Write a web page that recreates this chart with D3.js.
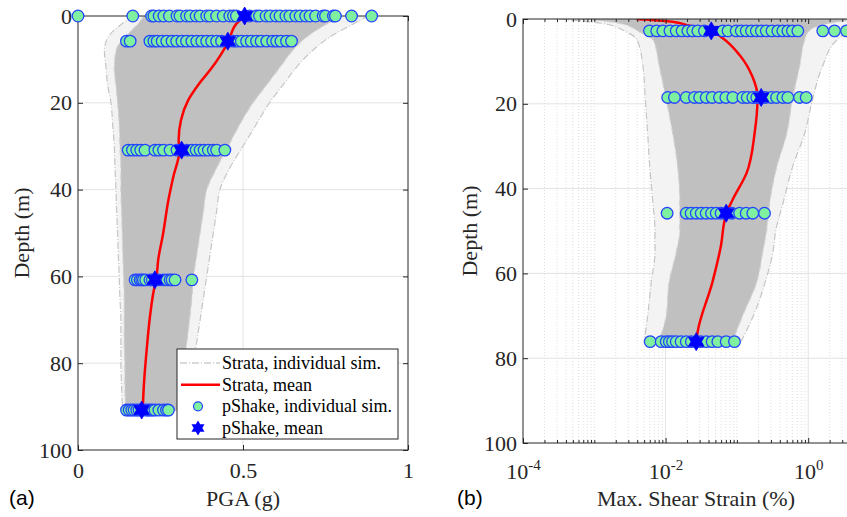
<!DOCTYPE html>
<html>
<head>
<meta charset="utf-8">
<script src="https://cdn.jsdelivr.net/npm/d3@7/dist/d3.min.js"></script>
<style>
  body { margin: 0; background: #fff; }
  svg { display: block; font-family: "Liberation Serif", "Times New Roman", serif; }
  .axis path, .axis line { stroke: #262626; }
  .axis text { fill: #262626; font-size: 22px; font-family: "Liberation Serif", serif; }
</style>
</head>
<body>
<div class="figure"></div>
<script>
//tick labels
const pgaTicks = [0, 0.5, 1];
const depthTicks = [0, 20, 40, 60, 80, 100];
const strainTicks = [1e-4, 1e-2, 1];

//pShake individual sims, panel (a): one row per output depth
const pgaDepths = [0, 5.8, 30.9, 60.8, 90.8];
const pgaSims = [
  [0.00, 0.166, 0.223, 0.23, 0.246, 0.26, 0.277, 0.30, 0.309, 0.329, 0.34, 0.358, 0.37, 0.39, 0.40, 0.42, 0.44, 0.46, 0.471, 0.48,
   0.52, 0.541, 0.55, 0.57, 0.582, 0.60, 0.612, 0.63, 0.642, 0.66, 0.673, 0.69, 0.703, 0.72, 0.743, 0.75, 0.774, 0.78, 0.829, 0.89],
  [0.147, 0.158, 0.218, 0.23, 0.24, 0.255, 0.269, 0.285, 0.299, 0.315, 0.329, 0.345, 0.36, 0.375, 0.39, 0.405, 0.42, 0.435,
   0.47, 0.481, 0.495, 0.511, 0.525, 0.541, 0.555, 0.572, 0.59, 0.602, 0.615, 0.632, 0.647],
  [0.152, 0.165, 0.178, 0.19, 0.203, 0.233, 0.245, 0.259, 0.279, 0.30, 0.33, 0.345, 0.358, 0.37, 0.382, 0.395, 0.41, 0.42, 0.445],
  [0.173, 0.18, 0.188, 0.193, 0.198, 0.205, 0.218, 0.225, 0.245, 0.259, 0.27, 0.279, 0.285, 0.294, 0.345],
  [0.147, 0.155, 0.163, 0.17, 0.178, 0.185, 0.205, 0.212, 0.218, 0.225, 0.233, 0.245, 0.259, 0.268, 0.274]
];
const pgaMeans = [0.505, 0.454, 0.314, 0.233, 0.193];

//Strata mean PGA profile
const pgaLineDepth = [0, 1.7, 6.2, 9, 12, 15.5, 19.4, 24, 28.6, 31.1, 37, 42.4, 50.1, 56.2, 60.1, 63.9, 69.3, 77, 84.6, 90.8];
const pgaLineMean = [0.506, 0.481, 0.454, 0.432, 0.405, 0.368, 0.334, 0.312, 0.305, 0.307, 0.289, 0.274, 0.258, 0.243, 0.238, 0.228, 0.218, 0.208, 0.20, 0.196];

//Strata individual sims, panel (a): envelopes of the grey band
const pgaBandDepth = [0, 2, 5, 8, 12, 16, 20, 25, 30, 35, 40, 45, 50, 55, 60, 65, 70, 75, 80, 85, 91];
const pgaInnerLo = [0.20, 0.18, 0.14, 0.115, 0.11, 0.115, 0.12, 0.125, 0.127, 0.13, 0.13, 0.132, 0.134, 0.136, 0.138, 0.14, 0.14, 0.14, 0.142, 0.142, 0.145];
const pgaInnerHi = [0.80, 0.75, 0.69, 0.65, 0.61, 0.57, 0.53, 0.49, 0.455, 0.42, 0.39, 0.38, 0.37, 0.36, 0.35, 0.345, 0.338, 0.33, 0.322, 0.315, 0.303];
const pgaOuterLo = [0.17, 0.13, 0.09, 0.08, 0.085, 0.09, 0.10, 0.105, 0.11, 0.112, 0.115, 0.117, 0.12, 0.122, 0.125, 0.127, 0.13, 0.13, 0.13, 0.132, 0.135];
const pgaOuterHi = [0.88, 0.83, 0.76, 0.71, 0.66, 0.62, 0.58, 0.54, 0.50, 0.46, 0.43, 0.42, 0.41, 0.40, 0.39, 0.38, 0.37, 0.36, 0.35, 0.34, 0.33];

//pShake individual sims, panel (b), strain in %
const strainDepths = [2.8, 18.5, 45.8, 76.1];
const strainSims = [
  [0.00594, 0.0075, 0.00914, 0.0115, 0.0141, 0.017, 0.0205, 0.024, 0.0283, 0.035, 0.0634, 0.075, 0.0977, 0.115, 0.135, 0.16,
   0.187, 0.22, 0.258, 0.31, 0.375, 0.44, 0.518, 0.6, 0.715, 1.6, 2.34, 3.44, 5.0],
  [0.0107, 0.0133, 0.0195, 0.0254, 0.030, 0.0371, 0.045, 0.057, 0.07, 0.0877, 0.121, 0.14, 0.167, 0.19, 0.25, 0.303, 0.36, 0.441, 0.518, 0.755, 0.937],
  [0.0105, 0.0195, 0.0228, 0.0269, 0.0316, 0.0371, 0.044, 0.0513, 0.06, 0.085, 0.109, 0.135, 0.167, 0.244],
  [0.00608, 0.00867, 0.0102, 0.0113, 0.0125, 0.0141, 0.0165, 0.0195, 0.023, 0.031, 0.0371, 0.045, 0.054, 0.0708, 0.0925]
];
const strainMeans = [0.0437, 0.219, 0.0708, 0.0269];

//Strata mean strain profile
const strainLineDepth = [0, 0.64, 1.4, 2.8, 4.5, 8.5, 13.7, 18.4, 27, 36.3, 42.7, 45.8, 54, 62, 74, 76];
const strainLineMean = [0.00387, 0.0125, 0.0195, 0.0437, 0.0628, 0.109, 0.166, 0.195, 0.177, 0.137, 0.0867, 0.0714, 0.0589, 0.0455, 0.028, 0.0271];

//Strata individual sims, panel (b): envelopes of the grey band
const strainBandDepth = [0, 1, 3, 5, 11, 19, 27, 35, 43, 50, 55, 62, 70, 76];
const strainInnerLo = [0.00063, 0.00224, 0.00427, 0.00676, 0.00813, 0.0102, 0.0126, 0.0148, 0.0158, 0.0158, 0.0141, 0.0112, 0.0102, 0.0081];
const strainInnerHi = [5.0, 2.0, 1.0, 0.89, 0.76, 0.60, 0.50, 0.36, 0.29, 0.26, 0.23, 0.19, 0.12, 0.087];
const strainOuterLo = [0.00032, 0.00126, 0.0028, 0.004, 0.0048, 0.0052, 0.0056, 0.006, 0.0066, 0.0071, 0.0071, 0.0063, 0.0056, 0.005];
const strainOuterHi = [10, 6.3, 3.5, 2.5, 1.6, 1.15, 0.89, 0.6, 0.45, 0.35, 0.32, 0.25, 0.17, 0.115];

const legendLabels = ['Strata, individual sim.', 'Strata, mean', 'pShake, individual sim.', 'pShake, mean'];

//colours
const greyBand = '#c0c0c0';
const greyLine = '#c6c6c6';
const redMean = '#ff0000';
const dotFill = '#7fefa0';
const dotEdge = '#2444ff';
const starFill = '#0000ff';
const gridColor = '#e3e3e3';

//MATLAB-like hexagram marker
function hexagram(r){
    const pts = d3.range(12).map(i => {
        const a = Math.PI / 6 * i - Math.PI / 2;
        const rr = i % 2 ? r * 0.58 : r;
        return [rr * Math.cos(a), rr * Math.sin(a)];
    });
    return 'M' + pts.join('L') + 'Z';
}

//zip depth & value arrays into row objects
function zipProfile(depths, ...cols){
    return depths.map((d, i) => ({depth: d, v: cols.map(c => c[i])}));
}

function drawPanel(svg, cfg){
    const {x, y, id} = cfg;
    const [x0, x1] = x.range();
    const [y0, y1] = y.range();

    svg.append('clipPath').attr('id', id)
        .append('rect').attr('x', x0).attr('y', y0).attr('width', x1 - x0).attr('height', y1 - y0);

    const g = svg.append('g');

    //grid
    const grid = g.append('g').attr('class', 'grid');
    if (cfg.minorX){
        grid.selectAll('.minor').data(cfg.minorX).enter().append('line')
            .attr('x1', d => x(d)).attr('x2', d => x(d))
            .attr('y1', y0).attr('y2', y1)
            .style('stroke', '#dedede').style('stroke-dasharray', '1,2');
    }
    grid.selectAll('.gx').data(cfg.gridX).enter().append('line')
        .attr('x1', d => x(d)).attr('x2', d => x(d))
        .attr('y1', y0).attr('y2', y1)
        .style('stroke', gridColor);
    grid.selectAll('.gy').data([20, 40, 60, 80]).enter().append('line')
        .attr('x1', x0).attr('x2', x1)
        .attr('y1', d => y(d)).attr('y2', d => y(d))
        .style('stroke', gridColor);

    //grey band of individual Strata sims
    const band = g.append('g').attr('clip-path', `url(#${id})`);
    const rows = zipProfile(cfg.bandDepth, cfg.outerLo, cfg.innerLo, cfg.innerHi, cfg.outerHi);
    const area = (a, b) => d3.area()
        .y(d => y(d.depth)).x0(d => x(d.v[a])).x1(d => x(d.v[b]))
        .curve(d3.curveMonotoneY);
    band.append('path').datum(rows).attr('d', area(0, 3)).style('fill', '#f3f3f3');
    band.append('path').datum(rows).attr('d', area(1, 2)).style('fill', greyBand);
    [0, 1, 2, 3].forEach(k => {
        band.append('path').datum(rows)
            .attr('d', d3.line().y(d => y(d.depth)).x(d => x(d.v[k])).curve(d3.curveMonotoneY))
            .style('fill', 'none').style('stroke', k === 1 || k === 2 ? '#d0d0d0' : greyLine)
            .style('stroke-width', 1.2).style('stroke-dasharray', '7,2,1,2');
    });

    //red mean line
    const meanRows = zipProfile(cfg.lineDepth, cfg.lineMean);
    g.append('path').datum(meanRows)
        .attr('clip-path', `url(#${id})`)
        .attr('d', d3.line().y(d => y(d.depth)).x(d => x(d.v[0])).curve(d3.curveMonotoneY))
        .style('fill', 'none').style('stroke', redMean).style('stroke-width', 2.5);

    //axes, ticks inward like MATLAB
    const ax = g.append('g').attr('class', 'axis');
    ax.append('g').attr('transform', `translate(0,${y1})`)
        .call(d3.axisBottom(x).tickValues(cfg.ticksX).tickFormat(cfg.fmtX).tickSize(-5).tickSizeOuter(0).tickPadding(cfg.padX));
    ax.append('g').attr('transform', `translate(0,${y0})`)
        .call(d3.axisTop(x).tickValues(cfg.ticksX).tickFormat('').tickSize(-5).tickSizeOuter(0));
    ax.append('g').attr('transform', `translate(${x0},0)`)
        .call(d3.axisLeft(y).tickValues(depthTicks).tickSize(-5).tickSizeOuter(0).tickPadding(6));
    ax.append('g').attr('transform', `translate(${x1},0)`)
        .call(d3.axisRight(y).tickValues(depthTicks).tickFormat('').tickSize(-5).tickSizeOuter(0));
    if (cfg.minorX){
        ax.append('g').attr('transform', `translate(0,${y1})`)
            .call(d3.axisBottom(x).tickValues(cfg.minorX).tickFormat('').tickSize(-3).tickSizeOuter(0));
        ax.append('g').attr('transform', `translate(0,${y0})`)
            .call(d3.axisTop(x).tickValues(cfg.minorX).tickFormat('').tickSize(-3).tickSizeOuter(0));
    }
    ax.selectAll('.domain').remove();
    ax.append('rect').attr('x', x0).attr('y', y0).attr('width', x1 - x0).attr('height', y1 - y0)
        .style('fill', 'none').style('stroke', '#262626');
    if (cfg.superscript){
        ax.selectAll('.tick text').filter(d => cfg.ticksX.includes(d) && typeof d === 'number')
            .each(function(d){
                if (!this.textContent) return;
                const t = d3.select(this).text('');
                t.append('tspan').text('10');
                t.append('tspan').text(Math.round(Math.log10(d)).toString())
                    .attr('dy', '-0.55em').style('font-size', '15px');
            });
    }

    //pShake circles
    const dots = g.append('g');
    cfg.simDepths.forEach((dep, i) => {
        dots.selectAll(null).data(cfg.sims[i]).enter().append('circle')
            .attr('cx', d => x(d)).attr('cy', y(dep)).attr('r', 5.8)
            .style('fill', dotFill).style('stroke', dotEdge).style('stroke-width', 1.3);
    });
    //pShake means
    g.append('g').selectAll('path').data(cfg.means).enter().append('path')
        .attr('transform', (d, i) => `translate(${x(d)},${y(cfg.simDepths[i])})`)
        .attr('d', hexagram(9))
        .style('fill', starFill).style('stroke', starFill).style('stroke-width', 0.8);

    //axis titles
    svg.append('text')
        .attr('transform', `translate(${cfg.yLabelX},${(y0 + y1) / 2}) rotate(-90)`)
        .attr('text-anchor', 'middle').style('font-size', '22px').style('fill', '#262626')
        .text('Depth (m)');
    svg.append('text')
        .attr('x', cfg.xLabelX).attr('y', 506)
        .attr('text-anchor', 'middle').style('font-size', '22px').style('fill', '#262626')
        .text(cfg.xLabel);
    svg.append('text')
        .attr('x', cfg.tagX).attr('y', 505)
        .style('font-family', '"Liberation Sans", Arial, sans-serif').style('font-size', '21px')
        .text(cfg.tag);
}

function drawLegend(svg){
    const lg = svg.append('g').attr('class', 'legend');
    lg.append('rect').attr('x', 177).attr('y', 349).attr('width', 221).attr('height', 90)
        .style('fill', '#fff').style('stroke', '#262626');
    const rowY = d3.scalePoint().domain(legendLabels).range([363, 428]);
    const item = lg.selectAll('.item').data(legendLabels).enter().append('g')
        .attr('transform', d => `translate(0,${rowY(d)})`);
    item.append('text').attr('x', 222).attr('y', 6)
        .style('font-size', '18px').style('fill', '#000').text(d => d);
    item.filter((d, i) => i === 0).append('line')
        .attr('x1', 180).attr('x2', 220)
        .style('stroke', '#b4b4b4').style('stroke-dasharray', '7,2,1,2');
    item.filter((d, i) => i === 1).append('line')
        .attr('x1', 181).attr('x2', 220)
        .style('stroke', redMean).style('stroke-width', 2.5);
    item.filter((d, i) => i === 2).append('circle')
        .attr('cx', 198).attr('r', 4.5)
        .style('fill', dotFill).style('stroke', dotEdge).style('stroke-width', 1.2);
    item.filter((d, i) => i === 3).append('path')
        .attr('transform', 'translate(198,0)').attr('d', hexagram(7.5))
        .style('fill', starFill);
}

function ready(){
    const svg = d3.select('.figure').append('svg')
        .attr('width', 847).attr('height', 517);

    //panel (a)
    const xA = d3.scaleLinear().domain([0, 1]).range([78, 408]);
    const yA = d3.scaleLinear().domain([0, 100]).range([16, 450]);
    drawPanel(svg, {
        id: 'clipA', x: xA, y: yA,
        ticksX: pgaTicks, fmtX: d3.format('~g'), padX: 12, gridX: [0.5],
        bandDepth: pgaBandDepth, outerLo: pgaOuterLo, innerLo: pgaInnerLo, innerHi: pgaInnerHi, outerHi: pgaOuterHi,
        lineDepth: pgaLineDepth, lineMean: pgaLineMean,
        simDepths: pgaDepths, sims: pgaSims, means: pgaMeans,
        yLabelX: 29, xLabelX: 243, xLabel: 'PGA (g)', tagX: 9, tag: '(a)'
    });

    //panel (b), log x axis running past the right edge of the picture
    const xB = d3.scaleLog().domain([1e-4, 10]).range([523, 879.5]);
    const yB = d3.scaleLinear().domain([0, 100]).range([19, 443]);
    const minorB = [];
    for (let k = -4; k <= 0; k++){
        for (let m = 1; m <= 9; m++){
            const v = m * Math.pow(10, k);
            if (m === 1 && k % 2 === 0) continue;
            minorB.push(v);
        }
    }
    drawPanel(svg, {
        id: 'clipB', x: xB, y: yB,
        ticksX: strainTicks, fmtX: d => String(d), padX: 20, gridX: [1e-2, 1], minorX: minorB, superscript: true,
        bandDepth: strainBandDepth, outerLo: strainOuterLo, innerLo: strainInnerLo, innerHi: strainInnerHi, outerHi: strainOuterHi,
        lineDepth: strainLineDepth, lineMean: strainLineMean,
        simDepths: strainDepths, sims: strainSims, means: strainMeans,
        yLabelX: 477, xLabelX: 696, xLabel: 'Max. Shear Strain (%)', tagX: 457, tag: '(b)'
    });

    drawLegend(svg);
}

ready();
</script>
</body>
</html>
